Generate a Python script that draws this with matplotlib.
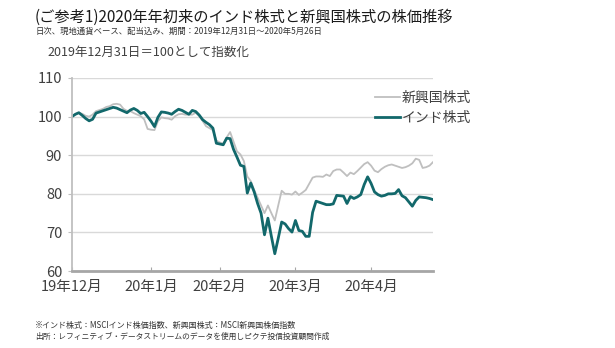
import numpy as np
import pandas as pd
import matplotlib
matplotlib.use('Agg')
import matplotlib.pyplot as plt

plt.rcParams['font.family'] = ['Noto Sans CJK JP', 'DejaVu Sans']

# Business days, 2019-12-31 .. 2020-05-26
dates = pd.bdate_range('2019-12-31', '2020-05-26')

india = [100, 100.6, 101, 100.3, 99.5, 98.9, 99.3, 100.9, 101.2, 101.5,
         101.8, 102.1, 102.4, 102.2, 101.8, 101.4, 101, 101.7, 102.1, 101.6,
         100.8, 101.1, 100, 98.8, 97.4, 99.8, 101.2, 101.1, 100.9, 100.6,
         101.3, 101.9, 101.6, 101.1, 100.6, 101.6, 101.3, 100.4, 99.2, 98.5,
         97.9, 97, 93.1, 92.9, 92.7, 94.4, 94.3, 91.5, 89.5, 87.4,
         87.1, 80.2, 82.8, 80.5, 77.5, 75, 69.4, 73.7, 69, 64.5,
         68.5, 72.7, 72.2, 71, 70.1, 73.1, 70.5, 70.3, 69, 69,
         75.2, 78.1, 77.8, 77.5, 77.2, 77.2, 77.4, 79.6, 79.5, 79.4,
         77.5, 79.3, 78.8, 79.2, 79.8, 82.4, 84.4, 82.7, 80.5, 79.8,
         79.4, 79.6, 80, 80, 80.1, 81.1, 79.5, 79, 77.9, 76.8,
         78.3, 79.2, 79.1, 79, 78.8, 78.5]

em = [100, 100.6, 101, 100.7, 100.2, 100, 100.5, 101.4, 101.7, 102,
      102.5, 102.7, 103.2, 103.3, 103.1, 102, 101.5, 101.4, 100.9, 100.5,
      100.1, 99.3, 96.8, 96.6, 96.5, 98.8, 99.8, 99.6, 99.5, 99.2,
      100.1, 100.6, 100.7, 100.5, 100.5, 100.5, 101, 100.2, 98.9, 97.5,
      97, 96.5, 93.8, 93.3, 93, 94.6, 96, 93.5, 91, 90.2,
      88.5, 84.5, 83.3, 81, 79, 77, 75, 77, 75, 73.1,
      77, 80.8, 80, 80, 79.8, 80.6, 79.7, 80.3, 81, 82.6,
      84.2, 84.5, 84.5, 84.4, 85, 84.6, 85.9, 86.3, 86.3, 85.5,
      84.6, 85.5, 85.1, 85.9, 86.8, 87.7, 88.2, 87.3, 86, 85.6,
      86.4, 87, 87.4, 87.6, 87.3, 87, 86.7, 86.9, 87.3, 87.9,
      89.1, 88.8, 86.7, 86.9, 87.3, 88.2]

month_labels = ['19年12月', '20年1月', '20年2月', '20年3月', '20年4月']

x = np.arange(len(dates))
# last business day of each month -> tick position
s = pd.Series(x, index=dates)
tick_pos = s.groupby([dates.year, dates.month]).last().values[:len(month_labels)]

fig = plt.figure(figsize=(6.15, 3.48), dpi=100)
ax = fig.add_axes([0.117, 0.221, 0.587, 0.555])

ax.plot(x, em, color='#bfbfbf', lw=1.3, label='新興国株式')
ax.plot(x, india, color='#12686b', lw=2.0, label='インド株式')

ax.set_xlim(0, len(x) - 1)
ax.set_ylim(60, 110)
ax.set_yticks(range(60, 111, 10))
ax.yaxis.grid(True, color='#d9d9d9', lw=1)
ax.set_axisbelow(True)
ax.set_xticks(tick_pos)
ax.set_xticklabels(month_labels)

for sp in ['top', 'right']:
    ax.spines[sp].set_visible(False)
ax.spines['left'].set_color('#bfbfbf')
ax.spines['left'].set_linewidth(1.3)
ax.spines['bottom'].set_color('#a6a6a6')
ax.spines['bottom'].set_linewidth(2)
ax.tick_params(axis='y', length=3, color='#bfbfbf', labelsize=10.5,
               labelcolor='#404040', pad=4)
ax.tick_params(axis='x', direction='in', length=3, color='#a6a6a6',
               labelsize=10.5, labelcolor='#404040', pad=6)

fig.legend(loc='upper left', bbox_to_anchor=(0.59, 0.775), frameon=False,
           fontsize=10, handlelength=1.8, handletextpad=0.1,
           labelspacing=0.45, labelcolor='#404040')

fig.text(0.057, 0.95, '(ご参考1)2020年年初来のインド株式と新興国株式の株価推移',
         fontsize=11, color='#1a1a1a', va='center')
fig.text(0.057, 0.91, '日次、現地通貨ベース、配当込み、期間：2019年12月31日～2020年5月26日',
         fontsize=6, color='#333333', va='center')
fig.text(0.078, 0.85, '2019年12月31日＝100として指数化',
         fontsize=9, color='#404040', va='center')
fig.text(0.057, 0.066, '※インド株式：MSCIインド株価指数、新興国株式：MSCI新興国株価指数',
         fontsize=5.8, color='#333333', va='center')
fig.text(0.057, 0.032, '出所：レフィニティブ・データストリームのデータを使用しピクテ投信投資顧問作成',
         fontsize=5.6, color='#333333', va='center')

fig.savefig('out.png', dpi=100)
